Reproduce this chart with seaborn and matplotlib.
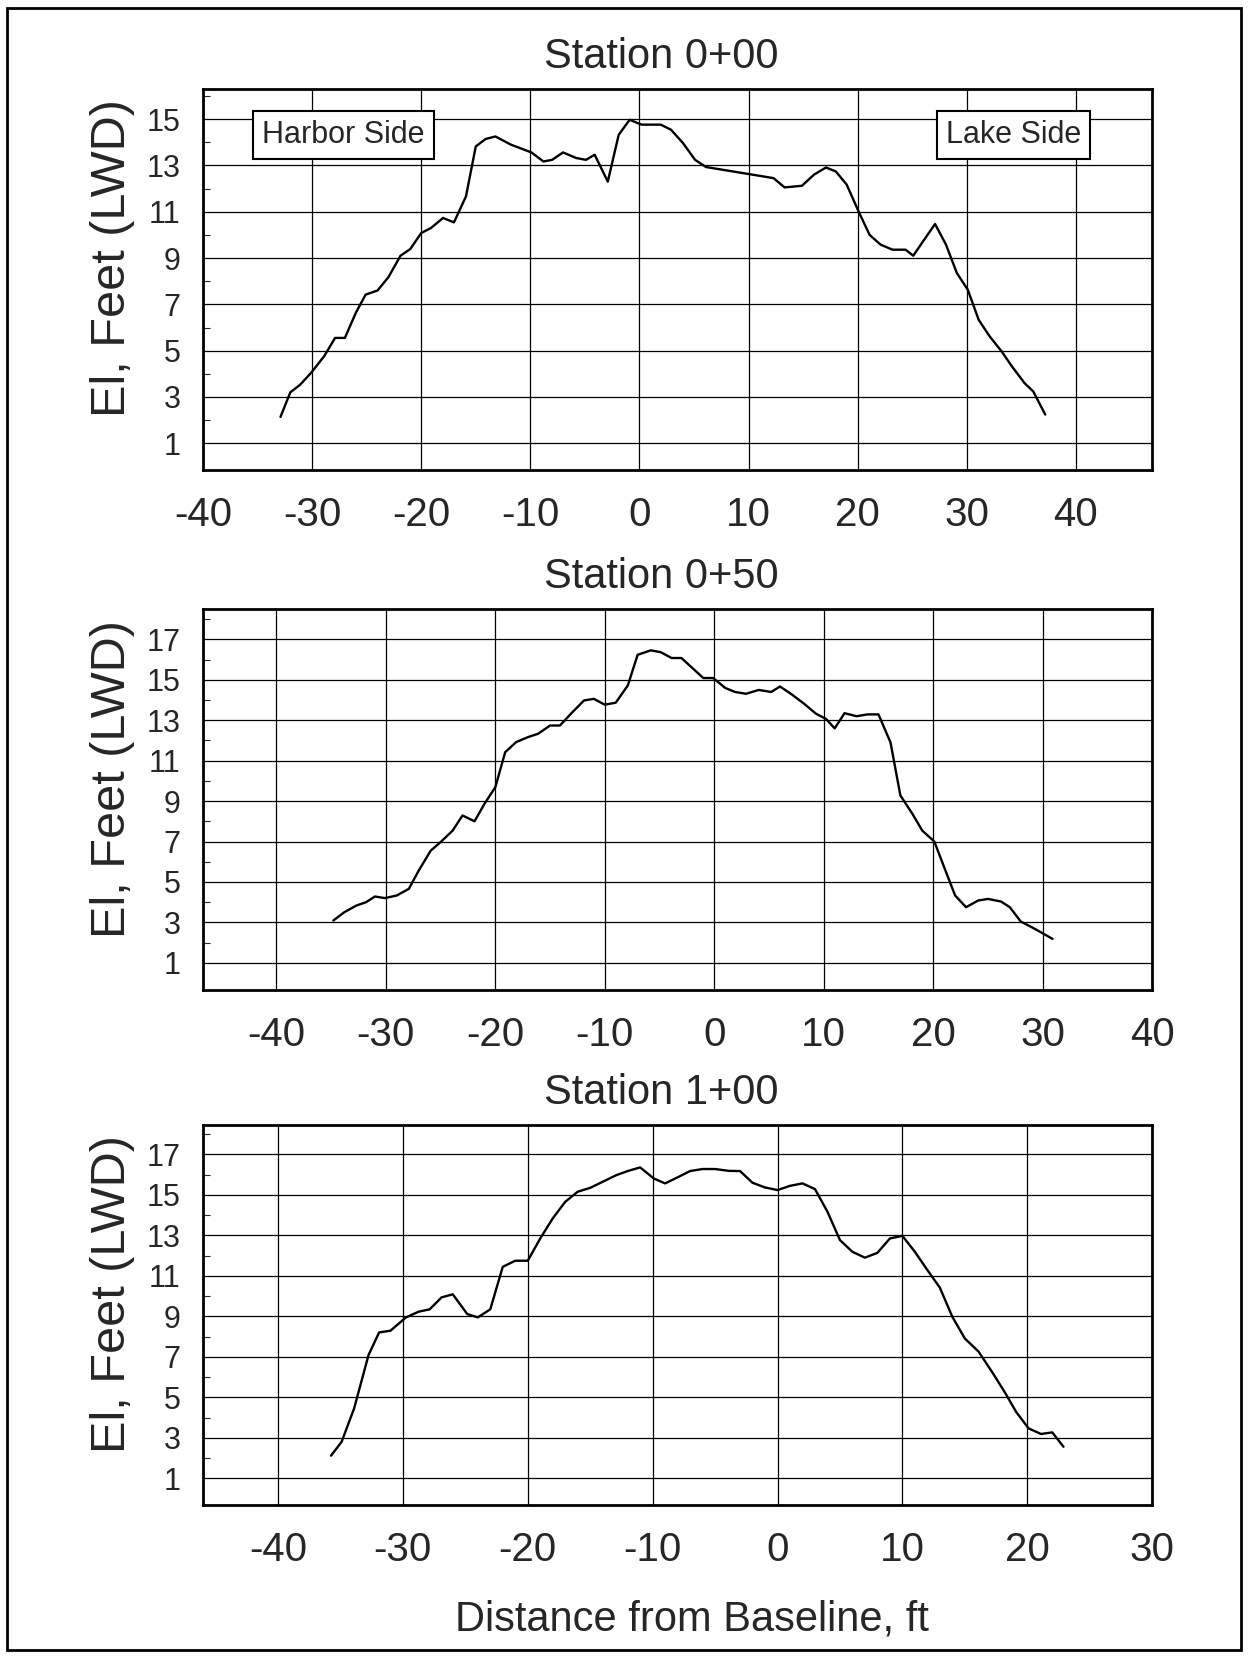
import numpy as np
import matplotlib
matplotlib.use("Agg")
import matplotlib.pyplot as plt
import seaborn as sns
from matplotlib.patches import Rectangle

# Station 0+00 profile (distance ft, elevation ft LWD)
x_000 = [-32.9, -32.0, -31.1, -30.1, -28.9, -27.9, -27.0, -26.0, -25.1, -24.0,
         -23.0, -21.9, -21.0, -20.0, -19.1, -18.0, -17.0, -15.9, -15.0, -14.1,
         -13.2, -11.8, -9.9, -8.8, -8.0, -7.0, -5.8, -4.9, -4.1, -2.9,
         -1.9, -0.9, 0.2, 1.95, 2.9, 4.0, 5.1, 6.1, 12.3, 13.3,
         14.9, 16.0, 17.1, 18.0, 19.0, 20.1, 21.1, 22.1, 23.2, 24.4,
         25.1, 26.1, 27.1, 28.1, 29.1, 30.1, 31.1, 32.1, 33.2, 34.1,
         35.3, 36.1, 37.2]
y_000 = [2.14, 3.2, 3.53, 4.04, 4.76, 5.55, 5.55, 6.63, 7.42, 7.6,
         8.18, 9.1, 9.39, 10.08, 10.3, 10.73, 10.54, 11.66, 13.82, 14.14,
         14.25, 13.9, 13.56, 13.17, 13.24, 13.56, 13.32, 13.24, 13.46, 12.3,
         14.32, 14.97, 14.76, 14.76, 14.54, 13.96, 13.24, 12.93, 12.45, 12.05,
         12.12, 12.6, 12.91, 12.74, 12.17, 11.0, 10.0, 9.58, 9.36, 9.36,
         9.1, 9.79, 10.47, 9.58, 8.35, 7.63, 6.33, 5.62, 4.97, 4.35,
         3.6, 3.24, 2.24]

# Station 0+50 profile
x_050 = [-34.8, -33.8, -32.7, -31.8, -31.0, -30.1, -29.0, -27.9, -27.0, -25.9,
         -25.0, -23.9, -23.0, -21.9, -21.0, -20.0, -19.1, -18.1, -17.0, -16.1,
         -15.0, -14.1, -13.1, -11.9, -11.0, -10.0, -9.0, -7.9, -7.0, -5.8,
         -4.9, -3.9, -3.0, -1.0, -0.1, 1.0, 1.9, 2.9, 4.06, 5.2,
         6.0, 7.0, 8.2, 9.3, 10.2, 11.0, 11.9, 13.0, 14.0, 15.0,
         16.1, 17.0, 18.1, 19.0, 20.1, 21.0, 22.0, 23.0, 24.1, 25.0,
         26.2, 27.0, 28.0, 29.0, 30.0, 30.9]
y_050 = [3.09, 3.5, 3.83, 4.0, 4.28, 4.2, 4.33, 4.66, 5.56, 6.55,
         6.97, 7.54, 8.29, 8.0, 8.86, 9.69, 11.42, 11.92, 12.17, 12.33,
         12.74, 12.74, 13.32, 13.98, 14.06, 13.77, 13.87, 14.72, 16.24, 16.46,
         16.37, 16.08, 16.08, 15.09, 15.09, 14.6, 14.4, 14.31, 14.5, 14.4,
         14.67, 14.31, 13.82, 13.32, 13.07, 12.6, 13.35, 13.2, 13.29, 13.29,
         11.9, 9.28, 8.37, 7.54, 7.0, 5.73, 4.33, 3.75, 4.08, 4.16,
         4.03, 3.75, 3.04, 2.76, 2.46, 2.18]

# Station 1+00 profile
x_100 = [-35.75, -34.9, -33.9, -32.75, -31.9, -31.0, -29.75, -28.75, -27.85, -26.9,
         -26.0, -24.85, -24.0, -23.0, -22.0, -21.0, -20.0, -19.0, -18.0, -17.0,
         -16.0, -15.0, -13.9, -12.9, -12.0, -11.0, -9.9, -9.0, -7.9, -7.0,
         -6.0, -5.0, -3.9, -3.0, -2.0, -1.0, 0.0, 1.0, 2.0, 3.0,
         4.0, 5.0, 6.0, 7.0, 8.0, 9.0, 10.0, 11.0, 12.0, 13.0,
         14.0, 15.0, 16.1, 17.25, 18.25, 19.1, 20.1, 21.1, 22.0, 22.9]
y_100 = [2.12, 2.81, 4.46, 7.09, 8.21, 8.29, 8.95, 9.23, 9.35, 9.94,
         10.09, 9.12, 8.95, 9.35, 11.45, 11.75, 11.75, 12.85, 13.84, 14.66,
         15.16, 15.35, 15.68, 15.98, 16.18, 16.36, 15.81, 15.57, 15.9, 16.18,
         16.28, 16.28, 16.19, 16.18, 15.6, 15.37, 15.24, 15.45, 15.57, 15.29,
         14.17, 12.77, 12.19, 11.9, 12.14, 12.85, 12.98, 12.19, 11.29, 10.42,
         8.98, 7.91, 7.26, 6.19, 5.2, 4.29, 3.47, 3.19, 3.27, 2.56]

titles = ["Station 0+00", "Station 0+50", "Station 1+00"]
xticks_list = [np.arange(-40, 41, 10), np.arange(-40, 41, 10), np.arange(-40, 31, 10)]
yticks_list = [np.arange(1, 16, 2), np.arange(1, 18, 2), np.arange(1, 18, 2)]
xlims = [(-40, 47), (-46.7, 40), (-46, 30)]
ylims = [(-0.15, 16.3), (-0.35, 18.5), (-0.32, 18.45)]

sns.set_style("white")
plt.rcParams['font.family'] = ['Liberation Sans', 'DejaVu Sans']

fig = plt.figure(figsize=(12.48, 16.57), dpi=100)

# outer frame
fig.patches.append(Rectangle((0.006, 0.004), 0.988, 0.991, transform=fig.transFigure,
                             fill=False, edgecolor='black', linewidth=2))

positions = [[0.1627, 0.7164, 0.7605, 0.2299],
             [0.1627, 0.4025, 0.7605, 0.2299],
             [0.1627, 0.0917, 0.7605, 0.2293]]
data = [(x_000, y_000), (x_050, y_050), (x_100, y_100)]

for i, (pos, (xs, ys)) in enumerate(zip(positions, data)):
    ax = fig.add_axes(pos)
    sns.lineplot(x=xs, y=ys, ax=ax, color='black', linewidth=1.7,
                 sort=False, estimator=None)
    ax.set_xlim(*xlims[i])
    ax.set_ylim(*ylims[i])
    ax.set_xticks(xticks_list[i])
    ax.set_yticks(yticks_list[i])
    ax.set_xticklabels([str(v) for v in xticks_list[i]], fontsize=29)
    ax.set_yticklabels([str(v) for v in yticks_list[i]], fontsize=22)
    ax.set_yticks(yticks_list[i] + 1, minor=True)
    ax.tick_params(axis='both', which='major', length=0)
    ax.tick_params(axis='x', pad=19)
    ax.tick_params(axis='y', pad=16)
    ax.tick_params(axis='y', which='minor', direction='in', length=5, width=0.8, left=True)
    ax.grid(True, which='major', color='black', linewidth=0.9)
    for s in ax.spines.values():
        s.set_linewidth(2)
        s.set_color('black')
    ax.set_title(titles[i], fontsize=30, pad=15, x=0.483)
    ax.set_ylabel("El, Feet (LWD)", fontsize=35)
    ax.yaxis.set_label_coords(-0.072, 0.555)

    if i == 0:
        box = dict(boxstyle='square,pad=0.3', facecolor='white', edgecolor='black', linewidth=1.5)
        ax.text(0.148, 0.88, "Harbor Side", transform=ax.transAxes, fontsize=22,
                ha='center', va='center', bbox=box)
        ax.text(0.854, 0.88, "Lake Side", transform=ax.transAxes, fontsize=22,
                ha='center', va='center', bbox=box)

fig.text(0.5545, 0.0229, "Distance from Baseline, ft", fontsize=30,
         ha='center', va='center')

fig.savefig("out.png", dpi=100)
